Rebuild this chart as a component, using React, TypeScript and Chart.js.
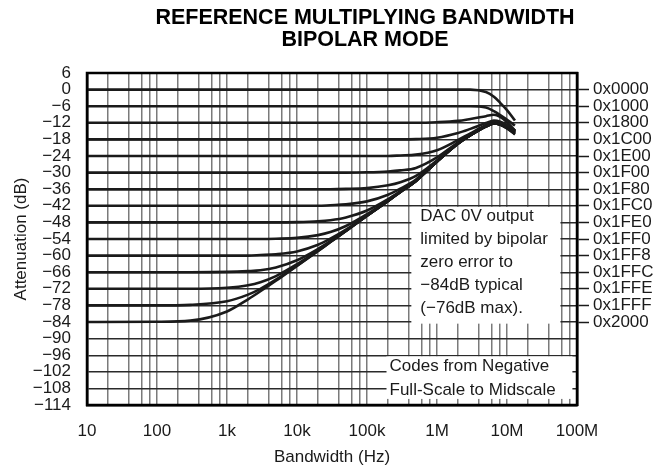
import React, { useEffect, useRef } from 'react';
import { Chart, registerables } from 'chart.js';

Chart.register(...registerables);

const FONT = '"Liberation Sans", Arial, Helvetica, sans-serif';

const TITLE_LINES = ['REFERENCE MULTIPLYING BANDWIDTH', 'BIPOLAR MODE'];
const X_TITLE = 'Bandwidth (Hz)';
const Y_TITLE = 'Attenuation (dB)';

const X_DECADES = [10, 100, 1e3, 1e4, 1e5, 1e6, 1e7, 1e8];
const X_TICK_LABELS = ['10', '100', '1k', '10k', '100k', '1M', '10M', '100M'];
const X_MINOR_MULTIPLIERS = [2, 4, 6, 8];

const Y_MIN = -114;
const Y_MAX = 6;
const Y_STEP = 6;

const CODE_LABELS = [
  '0x0000', '0x1000', '0x1800', '0x1C00', '0x1E00', '0x1F00', '0x1F80', '0x1FC0',
  '0x1FE0', '0x1FF0', '0x1FF8', '0x1FFC', '0x1FFE', '0x1FFF', '0x2000',
];
const CODE_LEVELS_DB = [0, -6, -12, -18, -24, -30, -36, -42, -48, -54, -60, -66, -72, -78, -84];

const NOTE_1 = ['DAC 0V output', 'limited by bipolar', 'zero error to', '\u221284dB typical', '(\u221276dB max).'];
const NOTE_2 = ['Codes from Negative', 'Full-Scale to Midscale'];

// frequency points (Hz) shared by every curve
const FREQ_HZ = [10, 100, 300, 1e3, 2e3, 3e3, 5e3, 1e4, 2e4, 3e4, 5e4, 1e5, 2e5, 3e5, 5e5, 1e6, 2e6, 3e6, 5e6, 6.5e6, 8e6, 1e7, 1.3e7];

// attenuation (dB) per code, one value per FREQ_HZ point
const ATT_0x0000 = [0, 0, 0, 0, 0, 0, 0, 0, 0, 0, 0, 0, 0, 0, 0, 0, 0, 0, -0.9, -2.6, -4.8, -7.4, -11.2];
const ATT_0x1000 = [-6, -6, -6, -6, -6, -6, -6, -6, -6, -6, -6, -6, -6, -6, -6, -6, -6, -6, -6.5, -7.8, -9.2, -10.9, -13.0];
const ATT_0x1800 = [-12, -12, -12, -12, -12, -12, -12, -12, -12, -12, -12, -12, -12, -12, -12, -11.8, -11.3, -10.6, -9.6, -9.1, -9.9, -11.8, -14.8];
const ATT_0x1C00 = [-18, -18, -18, -18, -18, -18, -18, -18, -18, -18, -18, -18, -18, -18, -17.9, -17.4, -15.7, -14.2, -12.1, -11.2, -11.6, -12.8, -14.8];
const ATT_0x1E00 = [-24, -24, -24, -24, -24, -24, -24, -24, -24, -24, -24, -24, -24, -23.8, -23.5, -21.9, -18.2, -15.8, -12.9, -11.7, -12.0, -13.0, -14.9];
const ATT_0x1F00 = [-30, -30, -30, -30, -30, -30, -30, -30, -30, -30, -30, -29.9, -29.6, -29.2, -28.3, -24.5, -19.1, -16.3, -13.2, -11.9, -12.2, -13.2, -15.0];
const ATT_0x1F80 = [-36, -36, -36, -36, -36, -36, -36, -36, -36, -36, -35.9, -35.6, -34.6, -33.5, -31.2, -25.6, -19.4, -16.4, -13.2, -12.0, -12.3, -13.3, -15.1];
const ATT_0x1FC0 = [-42, -42, -42, -42, -42, -42, -42, -42, -42, -41.8, -41.5, -40.4, -38.0, -35.8, -32.5, -25.9, -19.5, -16.5, -13.3, -12.1, -12.4, -13.4, -15.2];
const ATT_0x1FE0 = [-48, -48, -48, -48, -48, -48, -48, -47.9, -47.6, -47.2, -46.2, -43.7, -39.6, -36.7, -32.9, -26.0, -19.5, -16.5, -13.3, -12.2, -12.4, -13.5, -15.3];
const ATT_0x1FF0 = [-54, -54, -54, -54, -54, -54, -53.9, -53.6, -52.6, -51.5, -49.3, -45.0, -40.0, -36.9, -33.0, -26.0, -19.5, -16.5, -13.3, -12.2, -12.5, -13.6, -15.4];
const ATT_0x1FF8 = [-60, -60, -60, -60, -60, -59.8, -59.5, -58.5, -56.1, -53.9, -50.6, -45.5, -40.2, -37.0, -33.0, -26.0, -19.5, -16.5, -13.3, -12.2, -12.5, -13.6, -15.5];
const ATT_0x1FFC = [-66, -66, -66, -65.9, -65.6, -65.3, -64.3, -61.7, -57.6, -54.8, -51.0, -45.6, -40.2, -37.0, -33.0, -26.0, -19.5, -16.5, -13.3, -12.2, -12.5, -13.7, -15.6];
const ATT_0x1FFE = [-72, -72, -72, -71.6, -70.7, -69.6, -67.4, -63.1, -58.1, -55.0, -51.1, -45.6, -40.2, -37.0, -33.0, -26.0, -19.5, -16.5, -13.3, -12.2, -12.6, -13.8, -15.8];
const ATT_0x1FFF = [-78, -78, -77.8, -76.5, -74.1, -72.0, -68.7, -63.6, -58.3, -55.1, -51.1, -45.6, -40.2, -37.0, -33.0, -26.0, -19.5, -16.5, -13.3, -12.2, -12.6, -13.9, -16.0];
const ATT_0x2000 = [-84, -83.9, -83.5, -80.2, -75.8, -72.9, -69.1, -63.7, -58.3, -55.1, -51.1, -45.6, -40.2, -37.0, -33.0, -26.0, -19.5, -16.5, -13.3, -12.2, -12.7, -14.0, -16.2];

const SERIES = [
  ATT_0x0000, ATT_0x1000, ATT_0x1800, ATT_0x1C00, ATT_0x1E00, ATT_0x1F00, ATT_0x1F80, ATT_0x1FC0,
  ATT_0x1FE0, ATT_0x1FF0, ATT_0x1FF8, ATT_0x1FFC, ATT_0x1FFE, ATT_0x1FFF, ATT_0x2000,
];

const INK = '#1a1a1a';

const fmtDb = (v: number) => (v < 0 ? '\u2212' + String(-v) : String(v));

const framePlugin = {
  id: 'frameAndNotes',
  beforeDatasetsDraw(chart: any) {
    const { ctx } = chart;
    const xs = chart.scales.x;
    const ys = chart.scales.y;
    ctx.save();
    ctx.fillStyle = '#ffffff';
    // note boxes (white background hides the grid)
    const b1 = { x0: xs.getPixelForValue(4.3e5), x1: xs.getPixelForValue(5.8e7), y0: ys.getPixelForValue(-42.4), y1: ys.getPixelForValue(-84.6) };
    const b2 = { x0: xs.getPixelForValue(1.9e5), x1: xs.getPixelForValue(8.6e7), y0: ys.getPixelForValue(-96.4), y1: ys.getPixelForValue(-111.8) };
    ctx.fillRect(b1.x0, b1.y0, b1.x1 - b1.x0, b1.y1 - b1.y0);
    ctx.fillRect(b2.x0, b2.y0, b2.x1 - b2.x0, b2.y1 - b2.y0);
    ctx.fillStyle = INK;
    ctx.font = '17px ' + FONT;
    ctx.textAlign = 'left';
    ctx.textBaseline = 'middle';
    NOTE_1.forEach((t, i) => ctx.fillText(t, b1.x0 + 9, b1.y0 + 9.5 + i * 23.1));
    NOTE_2.forEach((t, i) => ctx.fillText(t, b2.x0 + 3, b2.y0 + 10.5 + i * 24));
    ctx.restore();
  },
  afterDatasetsDraw(chart: any) {
    const { ctx, chartArea } = chart;
    ctx.save();
    ctx.strokeStyle = '#000';
    ctx.lineWidth = 2.5;
    ctx.strokeRect(chartArea.left, chartArea.top, chartArea.right - chartArea.left, chartArea.bottom - chartArea.top);
    ctx.restore();
  },
  afterDraw(chart: any) {
    const { ctx } = chart;
    ctx.save();
    ctx.fillStyle = '#000';
    ctx.font = 'bold 21.5px ' + FONT;
    ctx.textAlign = 'center';
    ctx.textBaseline = 'alphabetic';
    ctx.fillText(TITLE_LINES[0], 365, 23.5);
    ctx.fillText(TITLE_LINES[1], 365, 45.5);
    ctx.restore();
  },
};

export default function App() {
  const ref = useRef<HTMLCanvasElement | null>(null);

  useEffect(() => {
    const canvas = ref.current;
    if (!canvas) return;
    const datasets = SERIES.map((vals, k) => ({
      label: CODE_LABELS[k],
      data: FREQ_HZ.map((f, i) => ({ x: f, y: vals[i] })),
      borderColor: INK,
      backgroundColor: INK,
      borderWidth: 2.6,
      pointRadius: 0,
      cubicInterpolationMode: 'monotone' as const,
      fill: false,
    }));

    const chart = new Chart(canvas, {
      type: 'line',
      data: { datasets },
      plugins: [framePlugin],
      options: {
        responsive: false,
        animation: false,
        devicePixelRatio: 1,
        layout: { padding: { top: 73, left: 0, right: 0, bottom: 0 } },
        plugins: {
          legend: { display: false },
          title: { display: false },
          tooltip: { enabled: false },
        },
        scales: {
          x: {
            type: 'logarithmic',
            min: 10,
            max: 1e8,
            afterBuildTicks: (scale: any) => {
              const t: any[] = [];
              X_DECADES.forEach((d, i) => {
                t.push({ value: d });
                if (i < X_DECADES.length - 1) X_MINOR_MULTIPLIERS.forEach((m) => t.push({ value: m * d }));
              });
              scale.ticks = t;
            },
            afterFit: (scale: any) => {
              scale.height = 65;
            },
            grid: { color: '#7a7a7a', lineWidth: 1.5, drawTicks: false },
            border: { display: true, color: '#000', width: 2.5 },
            ticks: {
              autoSkip: false,
              maxRotation: 0,
              padding: 16,
              color: INK,
              font: { family: FONT, size: 17 },
              callback: (v: any) => {
                const i = X_DECADES.indexOf(Number(v));
                return i >= 0 ? X_TICK_LABELS[i] : '';
              },
            },
            title: {
              display: true,
              text: X_TITLE,
              color: INK,
              font: { family: FONT, size: 17 },
              padding: { top: 0, bottom: 2 },
            },
          },
          y: {
            type: 'linear',
            position: 'left',
            min: Y_MIN,
            max: Y_MAX,
            afterFit: (scale: any) => {
              scale.width = 87;
            },
            grid: { color: '#2a2a2a', lineWidth: 1.4, drawTicks: false },
            border: { display: true, color: '#000', width: 2.5 },
            ticks: {
              stepSize: Y_STEP,
              autoSkip: false,
              padding: 16,
              color: INK,
              font: { family: FONT, size: 17 },
              callback: (v: any) => fmtDb(Number(v)),
            },
            title: {
              display: true,
              text: Y_TITLE,
              color: INK,
              font: { family: FONT, size: 17 },
              padding: { top: 11, bottom: 0 },
            },
          },
          y2: {
            type: 'linear',
            position: 'right',
            min: Y_MIN,
            max: Y_MAX,
            afterBuildTicks: (scale: any) => {
              scale.ticks = CODE_LEVELS_DB.map((v) => ({ value: v }));
            },
            afterFit: (scale: any) => {
              scale.width = 94;
            },
            grid: { drawOnChartArea: false, drawTicks: true, tickLength: 12, tickColor: INK, tickWidth: 1.5 },
            border: { display: true, color: '#000', width: 2.5 },
            ticks: {
              autoSkip: false,
              padding: 4,
              color: INK,
              font: { family: FONT, size: 17 },
              callback: (v: any) => {
                const i = CODE_LEVELS_DB.indexOf(Number(v));
                return i >= 0 ? CODE_LABELS[i] : '';
              },
            },
          },
        },
      } as any,
    });
    return () => chart.destroy();
  }, []);

  return (
    <div style={{ position: 'fixed', left: 0, top: 0, width: 671, height: 470, background: '#ffffff' }}>
      <canvas ref={ref} width={671} height={470} style={{ display: 'block', width: 671, height: 470 }} />
    </div>
  );
}
